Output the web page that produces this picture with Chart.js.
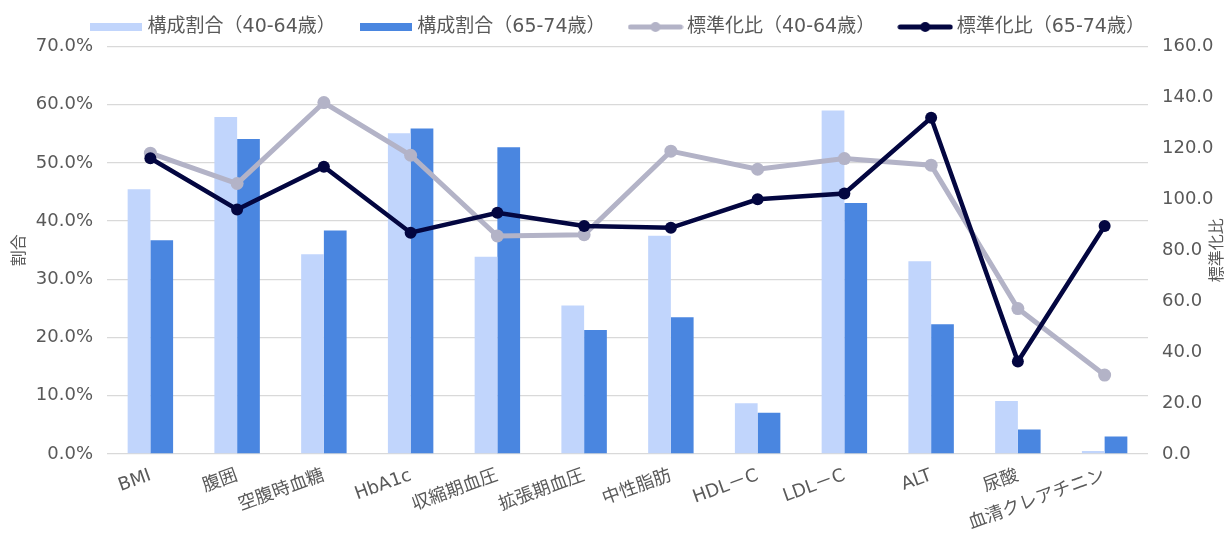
<!DOCTYPE html>
<html lang="ja">
<head>
    <meta charset="UTF-8">
    <title>構成割合と標準化比</title>
    <script src="https://cdn.jsdelivr.net/npm/chart.js"></script>
    <style>
        body {
            margin: 0;
            background-color: #ffffff;
        }
        .wrap {
            width: 1227px;
            height: 535px;
        }
    </style>
</head>
<body>
    <div class="wrap">
        <canvas id="mixChart"></canvas>
    </div>
    <script>
        // 項目
        const categories = ['BMI', '腹囲', '空腹時血糖', 'HbA1c', '収縮期血圧', '拡張期血圧',
            '中性脂肪', 'HDL－C', 'LDL－C', 'ALT', '尿酸', '血清クレアチニン'];

        // 構成割合 (%)
        const ratio4064 = [45.5, 57.9, 34.3, 55.1, 33.9, 25.5, 37.5, 8.7, 59.0, 33.1, 9.1, 0.5];
        const ratio6574 = [36.7, 54.1, 38.4, 55.9, 52.7, 21.3, 23.5, 7.1, 43.1, 22.3, 4.2, 3.0];

        // 標準化比
        const smr4064 = [118.1, 106.2, 138.0, 117.3, 85.6, 86.1, 118.9, 111.8, 116.0, 113.4, 57.1, 31.0];
        const smr6574 = [116.1, 96.0, 112.8, 86.9, 94.7, 89.5, 88.8, 100.0, 102.3, 132.0, 36.3, 89.5];

        const seriesNames = ['構成割合（40-64歳）', '構成割合（65-74歳）', '標準化比（40-64歳）', '標準化比（65-74歳）'];

        // axis ranges
        const leftMax = 70, leftStep = 10;
        const rightMax = 160, rightStep = 20;
        const leftTitle = '割合';
        const rightTitle = '標準化比';

        const FONT = "'DejaVu Sans', 'Noto Sans CJK JP', sans-serif";
        const TEXT = '#595959';
        const colors = {
            light: '#c1d5fc',
            blue: '#4a86e0',
            gray: '#b3b3c7',
            navy: '#030640'
        };

        Chart.defaults.font.family = FONT;
        Chart.defaults.color = TEXT;

        // legend icons
        function barIcon(color) {
            const c = document.createElement('canvas');
            c.width = 52; c.height = 8;
            const g = c.getContext('2d');
            g.fillStyle = color;
            g.fillRect(0, 0, 52, 8);
            return c;
        }
        function lineIcon(color) {
            const c = document.createElement('canvas');
            c.width = 56; c.height = 12;
            const g = c.getContext('2d');
            g.strokeStyle = color;
            g.lineWidth = 5;
            g.lineCap = 'round';
            g.beginPath();
            g.moveTo(3, 6); g.lineTo(53, 6);
            g.stroke();
            g.fillStyle = color;
            g.beginPath();
            g.arc(28, 6, 5, 0, Math.PI * 2);
            g.fill();
            return c;
        }
        const icons = [barIcon(colors.light), barIcon(colors.blue), lineIcon(colors.gray), lineIcon(colors.navy)];

        // right axis title reads bottom-to-top, so draw it here
        const rightTitlePlugin = {
            id: 'rightTitle',
            afterDraw(chart) {
                const s = chart.scales.y1;
                const ctx = chart.ctx;
                ctx.save();
                ctx.translate(s.right - 9, (s.top + s.bottom) / 2);
                ctx.rotate(-Math.PI / 2);
                ctx.font = '16px ' + FONT;
                ctx.fillStyle = TEXT;
                ctx.textAlign = 'center';
                ctx.textBaseline = 'middle';
                ctx.fillText(rightTitle, 0, 0);
                ctx.restore();
            }
        };

        const ctx = document.getElementById('mixChart').getContext('2d');
        new Chart(ctx, {
            type: 'bar',
            data: {
                labels: categories,
                datasets: [{
                    label: seriesNames[0],
                    data: ratio4064,
                    backgroundColor: colors.light,
                    yAxisID: 'y',
                    order: 2
                }, {
                    label: seriesNames[1],
                    data: ratio6574,
                    backgroundColor: colors.blue,
                    yAxisID: 'y',
                    order: 3
                }, {
                    type: 'line',
                    label: seriesNames[2],
                    data: smr4064,
                    borderColor: colors.gray,
                    backgroundColor: colors.gray,
                    borderWidth: 5,
                    pointRadius: 6.5,
                    pointBorderWidth: 0,
                    pointBackgroundColor: colors.gray,
                    tension: 0,
                    yAxisID: 'y1',
                    order: 1
                }, {
                    type: 'line',
                    label: seriesNames[3],
                    data: smr6574,
                    borderColor: colors.navy,
                    backgroundColor: colors.navy,
                    borderWidth: 4.5,
                    pointRadius: 6,
                    pointBorderWidth: 0,
                    pointBackgroundColor: colors.navy,
                    tension: 0,
                    yAxisID: 'y1',
                    order: 0
                }]
            },
            options: {
                responsive: true,
                maintainAspectRatio: false,
                animation: false,
                layout: {
                    padding: { top: -10.5, left: 12, right: 0, bottom: 0 }
                },
                datasets: {
                    bar: {
                        categoryPercentage: 0.524,
                        barPercentage: 1.0
                    }
                },
                plugins: {
                    tooltip: { enabled: false },
                    legend: {
                        display: true,
                        position: 'top',
                        labels: {
                            font: { size: 19 },
                            color: TEXT,
                            padding: 28,
                            usePointStyle: true,
                            pointStyleWidth: 44,
                            generateLabels: function(chart) {
                                return chart.data.datasets.map((ds, i) => ({
                                    text: ds.label,
                                    pointStyle: icons[i],
                                    fillStyle: ds.backgroundColor,
                                    strokeStyle: ds.backgroundColor,
                                    lineWidth: 0,
                                    fontColor: TEXT,
                                    hidden: !chart.isDatasetVisible(i),
                                    datasetIndex: i
                                }));
                            }
                        }
                    }
                },
                scales: {
                    x: {
                        grid: { display: false },
                        border: { display: false },
                        ticks: {
                            font: { size: 18 },
                            color: TEXT,
                            autoSkip: false,
                            minRotation: 20,
                            maxRotation: 20,
                            padding: 3
                        },
                        afterFit: function(scale) {
                            scale.height = 81;
                        }
                    },
                    y: {
                        position: 'left',
                        min: 0,
                        max: leftMax,
                        grid: {
                            color: '#d9d9d9',
                            lineWidth: 1.3,
                            drawTicks: false
                        },
                        border: { display: false },
                        ticks: {
                            stepSize: leftStep,
                            font: { size: 18 },
                            color: TEXT,
                            padding: 14,
                            callback: v => v.toFixed(1) + '%'
                        },
                        title: {
                            display: true,
                            text: leftTitle,
                            font: { size: 16 },
                            color: TEXT,
                            padding: { top: -2, bottom: 0 }
                        },
                        afterFit: function(scale) {
                            scale.width = 95;
                        }
                    },
                    y1: {
                        position: 'right',
                        min: 0,
                        max: rightMax,
                        grid: {
                            drawOnChartArea: false,
                            drawTicks: false
                        },
                        border: { display: false },
                        ticks: {
                            stepSize: rightStep,
                            font: { size: 18 },
                            color: TEXT,
                            padding: 14,
                            callback: v => v.toFixed(1)
                        },
                        afterFit: function(scale) {
                            scale.width = 79;
                        }
                    }
                }
            },
            plugins: [rightTitlePlugin]
        });
    </script>
</body>
</html>
